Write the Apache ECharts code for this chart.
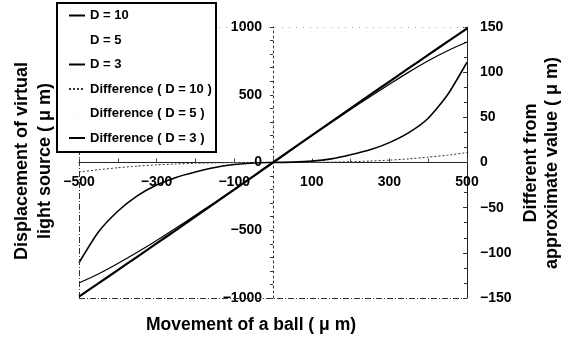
<!DOCTYPE html>
<html>
<head>
<meta charset="utf-8">
<script src="https://cdn.jsdelivr.net/npm/echarts@6/dist/echarts.min.js"></script>
<style>html,body{margin:0;padding:0;background:#fff}#c{width:568px;height:342px}</style>
</head>
<body>
<div id="c"></div>
<script>
const xValues = [-500,-450,-400,-350,-300,-250,-200,-150,-100,-50,0,50,100,150,200,250,300,350,400,450,500];
const d10 = [-989.5,-892,-794.2,-696,-597.4,-498.4,-399.1,-299.6,-199.9,-100,0,100,199.9,299.6,399.1,498.4,597.4,696,794,892,989];
const d5 = [-958,-869,-778,-685,-590,-494,-396.8,-298.5,-199.5,-99.9,0,99.9,199.5,298.5,396.8,494,590,685,778,869,958];
const d3 = [-889,-823,-746,-663,-575,-483.5,-389.5,-294.5,-197.8,-99.5,0,99.6,198.5,296,391.5,486,578,667,751,825,889];
const diff10 = [-10.5,-8,-5.8,-4,-2.6,-1.6,-0.9,-0.4,-0.1,0,0,0,0.1,0.4,0.9,1.6,2.6,4,6,8,11];
const diff5 = [-42,-31,-22,-15,-10,-6,-3.2,-1.5,-0.5,-0.1,0,0.1,0.5,1.5,3.2,6,10,15,22,31,42];
const diff3 = [-111,-77,-54,-37,-25,-16.5,-10.5,-5.5,-2.2,-0.5,0,0.4,1.5,4,8.5,14,22,33,49,75,111];
const seriesNames = ['D = 10','D = 5','D = 3','Difference ( D = 10 )','Difference ( D = 5 )','Difference ( D = 3 )'];
const xTitle = 'Movement of a ball ( \u03bc m)';
const yTitle = ['Displacement of virtual','light source ( \u03bc m)'];
const y2Title = ['Different from','approximate value ( \u03bc m)'];

const pts = arr => xValues.map((x,i)=>[x, arr[i]]);
const minus = v => String(v).replace('-', '\u2212');
const FONT = '"Liberation Sans", Arial, sans-serif';
const frameStyle = {color:'#333', width:1, type:[6,2,1,2]};

const W = 568, H = 342;
const G = {left:79, right:101, top:27, bottom:44};
const gridW = W - G.left - G.right, gridH = H - G.top - G.bottom;

const chart = echarts.init(document.getElementById('c'), null, {renderer:'canvas'});
chart.setOption({
  animation:false,
  backgroundColor:'#fff',
  textStyle:{fontFamily:FONT},
  grid:Object.assign({show:false}, G),
  legend:{
    orient:'vertical', left:68, top:9, padding:0, itemGap:11.5,
    itemWidth:16, itemHeight:12, z:20,
    itemStyle:{opacity:0},
    textStyle:{fontSize:13, fontWeight:'bold', color:'#000', fontFamily:FONT},
    data:seriesNames
  },
  xAxis:{
    type:'value', min:-500, max:500, interval:100, position:'bottom', offset:-gridH/2,
    axisLine:{onZero:false, lineStyle:{color:'#222', width:1}},
    axisTick:{show:true, inside:true, length:4, lineStyle:{color:'#444'}},
    axisLabel:{margin:12.5, fontSize:14, fontWeight:'bold', color:'#000', showMinLabel:true, showMaxLabel:true,
      formatter: v => (Math.abs(v) % 200 === 100 ? minus(v) : '')},
    splitLine:{show:false}
  },
  yAxis:[{
    type:'value', min:-1000, max:1000, interval:500, position:'left', offset:-gridW/2,
    axisLine:{show:true, onZero:false, lineStyle:{color:'#333', type:[2,3]}},
    axisTick:{show:true, length:3, lineStyle:{color:'#333'}},
    minorTick:{show:true, splitNumber:5, length:3, lineStyle:{color:'#333'}},
    axisLabel:{margin:11, fontSize:14, fontWeight:'bold', color:'#000', formatter:minus},
    splitLine:{show:false}
  },{
    type:'value', min:-150, max:150, interval:50, position:'right',
    axisLine:{show:true, onZero:false, lineStyle:{color:'#222', width:1}},
    axisTick:{show:true, inside:true, length:4, lineStyle:{color:'#333'}},
    minorTick:{show:true, splitNumber:3, length:3, lineStyle:{color:'#333'}},
    axisLabel:{margin:13, fontSize:14, fontWeight:'bold', color:'#000', formatter:minus},
    splitLine:{show:false}
  }],
  series:[
    {name:seriesNames[0], type:'line', yAxisIndex:0, data:pts(d10), symbol:'none', smooth:0.2, z:5,
      lineStyle:{color:'#000', width:2.2}, itemStyle:{color:'#000'},
      markLine:{silent:true, symbol:'none', label:{show:false},
        data:[
          {yAxis:-1000, lineStyle:frameStyle},
          {xAxis:-500, lineStyle:frameStyle},
          {yAxis:1000, lineStyle:{color:'#aaa', width:1, type:[1,6]}}
        ]}},
    {name:seriesNames[1], type:'line', yAxisIndex:0, data:pts(d5), symbol:'none', smooth:0.2, z:1,
      lineStyle:{color:'#fafafa', width:1, type:'dotted'}, itemStyle:{color:'#fafafa'}},
    {name:seriesNames[2], type:'line', yAxisIndex:0, data:pts(d3), symbol:'none', smooth:0.2, z:4,
      lineStyle:{color:'#000', width:1.2}, itemStyle:{color:'#000'}},
    {name:seriesNames[3], type:'line', yAxisIndex:1, data:pts(diff10), symbol:'none', smooth:0.2, z:3,
      lineStyle:{color:'#333', width:1, type:[2,2]}, itemStyle:{color:'#333'}},
    {name:seriesNames[4], type:'line', yAxisIndex:1, data:pts(diff5), symbol:'none', smooth:0.2, z:1,
      lineStyle:{color:'#fafafa', width:1, type:'dotted'}, itemStyle:{color:'#fafafa'}},
    {name:seriesNames[5], type:'line', yAxisIndex:1, data:pts(diff3), symbol:'none', smooth:0.2, z:4,
      lineStyle:{color:'#000', width:1.6}, itemStyle:{color:'#000'}}
  ],
  graphic:[
    {type:'rect', z:15, shape:{x:57, y:3, width:159, height:149}, style:{fill:'#fff', stroke:'#000', lineWidth:2}},
    {type:'text', x:251, y:325, style:{text:xTitle, font:'bold 17.5px '+FONT, fill:'#000', textAlign:'center', textVerticalAlign:'middle'}},
    {type:'text', x:22, y:161, rotation:Math.PI/2, style:{text:yTitle[0], font:'bold 18px '+FONT, fill:'#000', textAlign:'center', textVerticalAlign:'middle'}},
    {type:'text', x:45, y:161, rotation:Math.PI/2, style:{text:yTitle[1], font:'bold 18px '+FONT, fill:'#000', textAlign:'center', textVerticalAlign:'middle'}},
    {type:'text', x:531, y:163, rotation:Math.PI/2, style:{text:y2Title[0], font:'bold 18px '+FONT, fill:'#000', textAlign:'center', textVerticalAlign:'middle'}},
    {type:'text', x:552, y:163, rotation:Math.PI/2, style:{text:y2Title[1], font:'bold 18px '+FONT, fill:'#000', textAlign:'center', textVerticalAlign:'middle'}}
  ]
});
</script>
</body>
</html>
